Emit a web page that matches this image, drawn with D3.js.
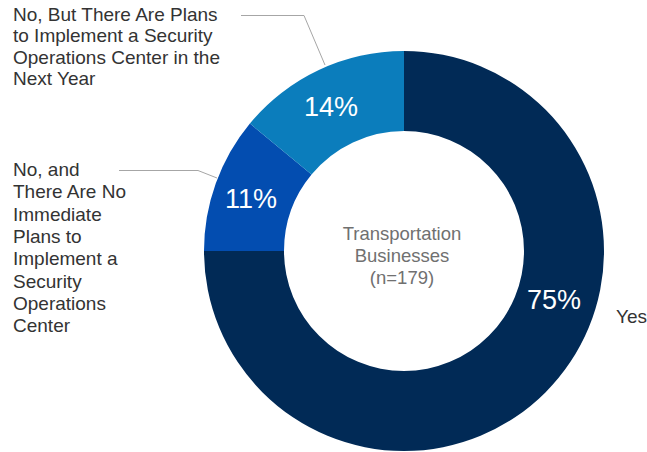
<!DOCTYPE html>
<html><head><meta charset="utf-8">
<script src="https://cdn.jsdelivr.net/npm/d3@7/dist/d3.min.js"></script>
<style>
html,body{margin:0;padding:0;background:#fff;}
text{font-family:"Liberation Sans",Arial,sans-serif;}
</style></head>
<body><svg id="c" width="647" height="452"></svg>
<script>
const categories = ["Yes", "No, and There Are No Immediate Plans to Implement a Security Operations Center", "No, But There Are Plans to Implement a Security Operations Center in the Next Year"];
const values = [75, 11, 14];
const colors = ["#012a56", "#034db0", "#0b7dbc"];
const centerLines = ["Transportation", "Businesses", "(n=179)"];
const labelLines = [
  ["Yes"],
  ["No, and", "There Are No", "Immediate", "Plans to", "Implement a", "Security", "Operations", "Center"],
  ["No, But There Are Plans", "to Implement a Security", "Operations Center in the", "Next Year"]
];

const svg = d3.select("#c");
const cx = 404, cy = 251, R = 200, r = 120;
const g = svg.append("g").attr("transform", `translate(${cx},${cy})`);
const pie = d3.pie().sort(null).value(d => d)(values);
const arc = d3.arc().innerRadius(r).outerRadius(R);
g.selectAll("path").data(pie).join("path")
  .attr("d", arc).attr("fill", (d, i) => colors[i]);

// percentage labels
const pctPos = [[150, 58], [-153, -43], [-73, -135]];
g.selectAll("text.pct").data(pie).join("text").attr("class", "pct")
  .attr("x", (d, i) => pctPos[i][0]).attr("y", (d, i) => pctPos[i][1])
  .attr("text-anchor", "middle").attr("fill", "#fff")
  .attr("font-size", 27)
  .text(d => d.data + "%");

// center text
const ct = svg.append("text").attr("text-anchor", "middle").attr("fill", "#707070").attr("font-size", 18.5);
centerLines.forEach((t, i) => ct.append("tspan").attr("x", 402).attr("y", 240 + i * 22).text(t));

// labels
const lab = (lines, x, y0, dy) => {
  const t = svg.append("text").attr("fill", "#333").attr("font-size", 19);
  lines.forEach((s, i) => t.append("tspan").attr("x", x).attr("y", y0 + i * dy).text(s));
};
lab(labelLines[0], 616, 323, 22);
lab(labelLines[1], 13, 176, 22.3);
lab(labelLines[2], 13, 21, 21.4);

// leader lines
const line = d3.line();
svg.append("path").attr("d", line([[241, 15.5], [304, 15.5], [325, 65]])).attr("fill", "none").attr("stroke", "#a6a6a6").attr("stroke-width", 1);
svg.append("path").attr("d", line([[119, 170.5], [198, 170.5], [217, 178]])).attr("fill", "none").attr("stroke", "#a6a6a6").attr("stroke-width", 1);
</script></body></html>
